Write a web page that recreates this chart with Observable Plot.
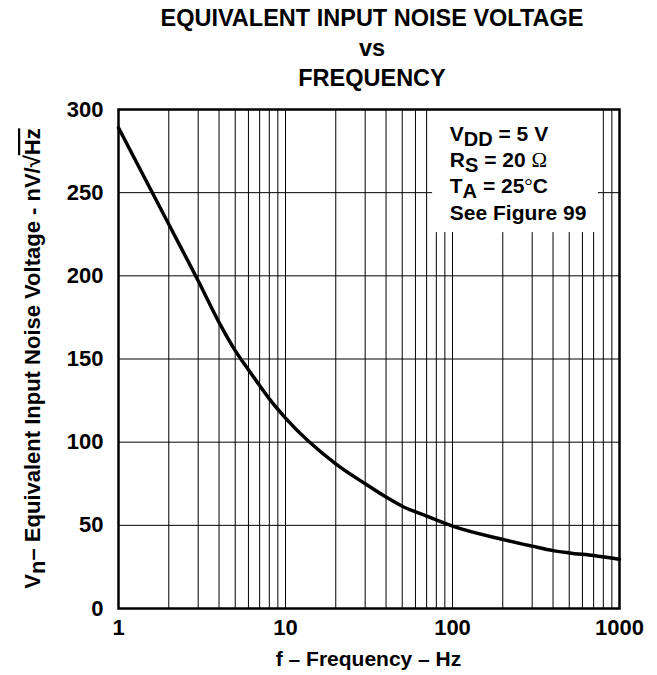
<!DOCTYPE html>
<html><head><meta charset="utf-8">
<script src="https://cdn.jsdelivr.net/npm/d3@7"></script>
<script src="https://cdn.jsdelivr.net/npm/@observablehq/plot@0.6"></script>
<style>
body{margin:0;background:#fff;}
#wrap{position:relative;width:657px;height:675px;overflow:hidden;font-family:"Liberation Sans",Arial,sans-serif;background:#fff;}
#title{position:absolute;left:0;top:3px;width:744px;text-align:center;font-weight:bold;font-size:23.5px;line-height:30px;color:#000;}
#chart{position:absolute;left:0;top:95px;}
</style></head>
<body><div id="wrap"><div id="title">EQUIVALENT INPUT NOISE VOLTAGE<br>vs<br>FREQUENCY</div><div id="chart"></div></div>
<script>
// Data
const freq  = [1, 2, 3, 4, 5, 6, 7, 8, 10, 20, 30, 40, 50, 70, 100, 200, 300, 400, 500, 700, 1000];
const noise = [289, 231, 197, 172, 155, 143.5, 134, 126, 114.5, 87, 75, 67, 61.5, 55.5, 49.5, 41.5, 37.5, 34.8, 33.4, 31.8, 29.6];
const xTicks = [1, 10, 100, 1000];
const yTicks = [0, 50, 100, 150, 200, 250, 300];
const gridFreq = [2,3,4,5,6,7,8,9,10,20,30,40,50,60,70,80,90,100,200,300,400,500,600,700,800,900];
const gridNoise = [50, 100, 150, 200, 250];

const data = freq.map((f, i) => ({f, v: noise[i]}));
const FONT = '"Liberation Sans", Arial, sans-serif';
const W = 657, H = 580, mT = 14, mB = 67, mL = 118, mR = 38;

const plot = Plot.plot({
  width: W, height: H, marginTop: mT, marginBottom: mB, marginLeft: mL, marginRight: mR,
  style: {fontFamily: FONT, fontWeight: "bold", fontSize: "22px", color: "#000", background: "#fff"},
  x: {type: "log", domain: [1, 1000]},
  y: {domain: [0, 300]},
  marks: [
    Plot.ruleX(gridFreq, {stroke: "#000", strokeWidth: 1}),
    Plot.ruleY(gridNoise, {stroke: "#000", strokeWidth: 1}),
    Plot.rect([0], {x1: 76, x2: 748, y1: 226, y2: 300, fill: "#fff"}),
    Plot.line(data, {x: "f", y: "v", curve: "monotone-x", stroke: "#000", strokeWidth: 3.5}),
    Plot.frame({stroke: "#000", strokeWidth: 2.5}),
    Plot.axisX(xTicks, {tickSize: 0, tickPadding: 11, fontSize: 22, fontWeight: "bold", label: null, tickFormat: d => String(d)}),
    Plot.axisY(yTicks, {tickSize: 0, tickPadding: 15, fontSize: 22, fontWeight: "bold", label: null, tickFormat: d => String(d)})
  ]
});
document.getElementById("chart").appendChild(plot);

const svg = d3.select(plot);
const sx = plot.scale("x"), sy = plot.scale("y");
const cx = (sx.apply(1) + sx.apply(1000)) / 2;
const cy = (sy.apply(0) + sy.apply(300)) / 2;

// x axis label
svg.append("text")
  .attr("x", cx).attr("y", H - mB + 58)
  .attr("text-anchor", "middle").attr("font-family", FONT)
  .attr("font-size", 21).attr("font-weight", "bold").attr("fill", "#000")
  .text("f – Frequency – Hz");

// y axis label
const yl = svg.append("text")
  .attr("transform", `translate(40,${cy}) rotate(-90)`)
  .attr("text-anchor", "middle").attr("font-family", FONT)
  .attr("font-size", 22).attr("font-weight", "bold").attr("fill", "#000");
yl.append("tspan").text("V");
yl.append("tspan").attr("dy", 5).text("n");
yl.append("tspan").attr("dy", -5).text("– Equivalent Input Noise Voltage - nV/");
yl.append("tspan").text("√");
yl.append("tspan").attr("text-decoration", "overline").text("Hz");

// legend
const lx = sx.apply(97);
const baseVals = [281, 265, 249.2, 233];
const parts = [
  [["V"], ["DD", "sub"], [" = 5 V"]],
  [["R"], ["S", "sub"], [" = 20 "], ["Ω", "serif"]],
  [["T"], ["A", "sub"], [" = 25"], ["°", "serif"], ["C"]],
  [["See Figure 99"]]
];
parts.forEach((p, i) => {
  const t = svg.append("text")
    .attr("x", lx).attr("y", sy.apply(baseVals[i]))
    .attr("text-anchor", "start")
    .attr("font-family", FONT).attr("font-size", 21).attr("font-weight", "bold").attr("fill", "#000");
  let shifted = false;
  p.forEach(([s, kind]) => {
    const ts = t.append("tspan").text(s);
    if (kind === "sub") { ts.attr("dy", 5).attr("font-size", 20); shifted = true; }
    else {
      if (shifted) { ts.attr("dy", -5); shifted = false; }
      if (kind === "serif") ts.attr("font-family", '"Liberation Serif", "DejaVu Serif", serif').attr("font-weight", "normal");
    }
  });
});
</script>
</body></html>
